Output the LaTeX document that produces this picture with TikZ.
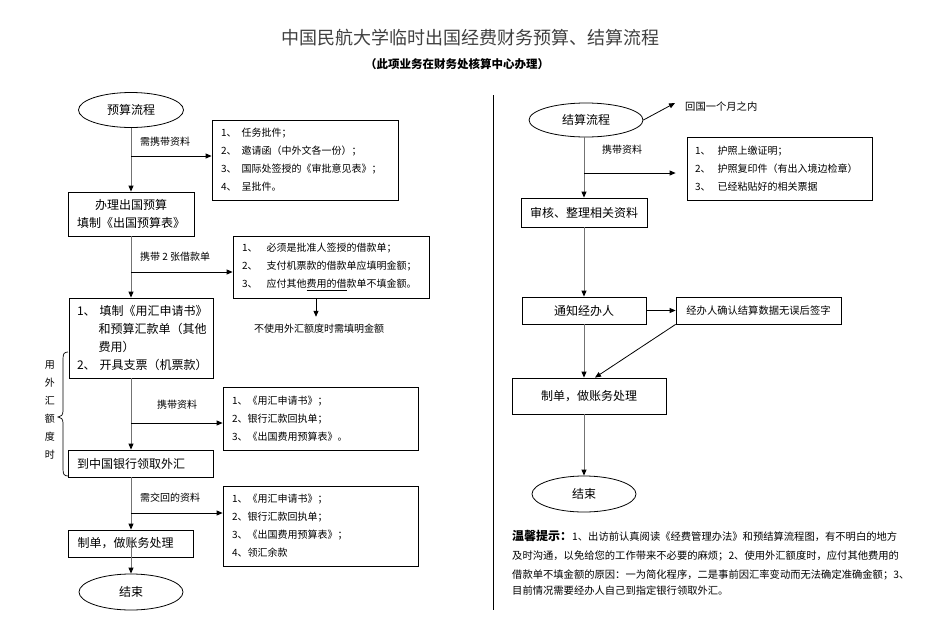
\documentclass[tikz,border=0pt]{standalone}
\usepackage{fontspec}
\setmainfont{Noto Sans CJK SC}
\usetikzlibrary{arrows.meta,shapes.geometric}
\begin{document}
\begin{tikzpicture}[x=1pt,y=-1pt,
  bx/.style={draw, line width=0.8pt, inner xsep=9pt, inner ysep=0pt},
  small/.style={font=\fontsize{10}{18}\selectfont},
  mid/.style={font=\fontsize{12}{18}\selectfont},
  ell/.style={draw, ellipse, line width=0.8pt, inner sep=0pt, font=\fontsize{12}{14}\selectfont},
  trunk/.style={draw=black!55, line width=0.9pt, -{Triangle[length=6pt,width=5pt,color=black]}},
  br/.style={draw=black, line width=0.8pt, -{Triangle[length=6pt,width=5pt]}},
  lab/.style={font=\fontsize{10}{12}\selectfont, inner sep=0pt, anchor=west},
  note/.style={font=\fontsize{10.3}{12}\selectfont, inner sep=0pt, anchor=west},
]
\useasboundingbox (0,0) rectangle (935,627);
% titles
\node[font=\fontsize{18}{20}\selectfont, text=black!75] (title) at (470,38) {中国民航大学临时出国经费财务预算、结算流程};
\node[font=\bfseries\fontsize{11.5}{12}\selectfont] (sub) at (457,64) {（此项业务在财务处核算中心办理）};
% divider
\draw[line width=0.8pt] (493,95) -- (493,610);

% ---------- left column ----------
\node[ell, minimum width=105pt, minimum height=35pt] (sL) at (131,110) {预算流程};
\node[bx, small, align=left, text width=168pt, minimum height=80pt] (b1) at (305,160)
  {1、\kern5pt 任务批件；\\2、\kern5pt 邀请函（中外文各一份）；\\3、\kern5pt 国际处签授的《审批意见表》；\\4、\kern5pt 呈批件。};
\node[bx, mid, align=center, minimum width=125pt, minimum height=44pt] (prep) at (131,214)
  {办理出国预算\\填制《出国预算表》};
\node[bx, small, align=left, text width=178pt, minimum height=62pt] (b2) at (331,267)
  {1、\kern9pt 必须是批准人签授的借款单；\\2、\kern9pt 支付机票款的借款单应填明金额；\\3、\kern9pt 应付其他\underline{费用的借}款单不填金额。};
\node[font=\fontsize{10}{12}\selectfont] (nouse) at (319,329) {不使用外汇额度时需填明金额};
\node[bx, align=left, text width=128pt, inner xsep=8pt, minimum height=80pt, font=\fontsize{12}{17.7}\selectfont] (b3) at (141,338)
  {1、\kern4pt 填制《用汇申请书》\\\hspace*{21.5pt}和预算汇款单（其他\\\hspace*{21.5pt}费用）\\2、\kern4pt 开具支票（机票款）};
\node[bx, mid, align=left, text width=127pt, minimum height=27pt] (b4) at (140.5,463.5) {到中国银行领取外汇};
\node[bx, small, align=left, text width=177pt, minimum height=63pt] (b5) at (320.5,418.5)
  {1、《用汇申请书》；\\2、银行汇款回执单；\\3、《出国费用预算表》。};
\node[bx, small, align=left, text width=177pt, minimum height=80pt] (b7) at (320.5,526)
  {1、《用汇申请书》；\\2、银行汇款回执单；\\3、《出国费用预算表》；\\4、领汇余款};
\node[bx, mid, align=left, text width=107pt, minimum height=27pt] (b6) at (131,543.5) {制单，做账务处理};
\node[ell, minimum width=104pt, minimum height=36pt] (eL) at (131,592) {结束};

\node[lab] (l1) at (140,142) {需携带资料};
\node[lab] (l2) at (140,257) {携带 2 张借款单};
\node[lab] (l3) at (157,405) {携带资料};
\node[lab] (l4) at (140,498) {需交回的资料};
\node[font=\fontsize{10}{18}\selectfont, align=center, inner sep=0pt] (yw) at (50,410) {用\\外\\汇\\额\\度\\时};

% brace
\draw[line width=0.7pt] (68,352) .. controls (64,352) and (63,354) .. (63,359) -- (63,411)
  .. controls (63,415) and (61,417) .. (58,417) .. controls (61,417) and (63,419) .. (63,423)
  -- (63,469) .. controls (63,474) and (64,476) .. (68,476);

% connectors left
\draw[trunk] (sL.south) -- (prep.north);
\draw[trunk] (prep.south) -- (prep.south |- b3.north);
\draw[trunk] (prep.south |- b3.south) -- (prep.south |- b4.north);
\draw[trunk] (prep.south |- b4.south) -- (b6.north);
\draw[trunk] (b6.center) -- (eL.north);
\coordinate (j1) at (131,156);
\coordinate (j2) at (131,272);
\coordinate (j3) at (131,423);
\coordinate (j4) at (131,513);
\draw[br] (j1) -- (j1 -| b1.west);
\draw[br] (j2) -- (j2 -| b2.west);
\draw[br] (j3) -- (j3 -| b5.west);
\draw[br] (j4) -- (j4 -| b7.west);
\draw[br, shorten >=4pt] ([xshift=-15pt]b2.south) -- ([xshift=-15pt]b2.south |- nouse.north);

% ---------- right column ----------
\node[ell, minimum width=114pt, minimum height=34pt] (sR) at (586,120) {结算流程};
\node[note] (ret) at (685,107) {回国一个月之内};
\node[lab] (l5) at (602,150) {携带资料};
\node[bx, small, align=left, text width=169pt, inner xsep=8pt, minimum height=63pt] (r1) at (779.5,168.5)
  {1、\kern7pt 护照上缴证明；\\2、\kern7pt 护照复印件（有出入境边检章）\\3、\kern7pt 已经粘贴好的相关票据};
\node[bx, mid, minimum width=124pt, minimum height=29pt] (audit) at (584,212.5) {审核、整理相关资料};
\node[bx, mid, minimum width=124pt, minimum height=27pt] (notify) at (584,310.5) {通知经办人};
\node[bx, font=\fontsize{10.3}{12}\selectfont, minimum width=165pt, minimum height=27pt] (r2) at (758.5,310.5) {经办人确认结算数据无误后签字};
\node[bx, mid, minimum width=154pt, minimum height=36pt] (r3) at (589,396) {制单，做账务处理};
\node[ell, minimum width=104pt, minimum height=36pt] (eR) at (584,494) {结束};

\draw[br] (sR.east) -- ([xshift=-10pt,yshift=4pt]ret.west);
\draw[trunk] (sR.south -| audit.north) -- (audit.north);
\coordinate (j5) at (584,173);
\draw[br, shorten >=11pt] (j5) -- (j5 -| r1.west);
\draw[trunk] (audit.south) -- (notify.north);
\draw[br] (notify.east) -- (r2.west);
\draw[trunk] (notify.south) -- (notify.south |- r3.north);
\draw[br] (r2.south west) -- ([xshift=6pt]r3.north);
\draw[trunk] (notify.south |- r3.south) -- (eR.north);

% note
\node[note] (n1) at (512,536) {{\bfseries\fontsize{12}{12}\selectfont 温馨提示：}1、出访前认真阅读《经费管理办法》和预结算流程图，有不明白的地方};
\node[note] (n2) at (512,556) {及时沟通，以免给您的工作带来不必要的麻烦；2、使用外汇额度时，应付其他费用的};
\node[note] (n3) at (512,575) {借款单不填金额的原因：一为简化程序，二是事前因汇率变动而无法确定准确金额；3、};
\node[note] (n4) at (512,591) {目前情况需要经办人自己到指定银行领取外汇。};
\end{tikzpicture}
\end{document}
